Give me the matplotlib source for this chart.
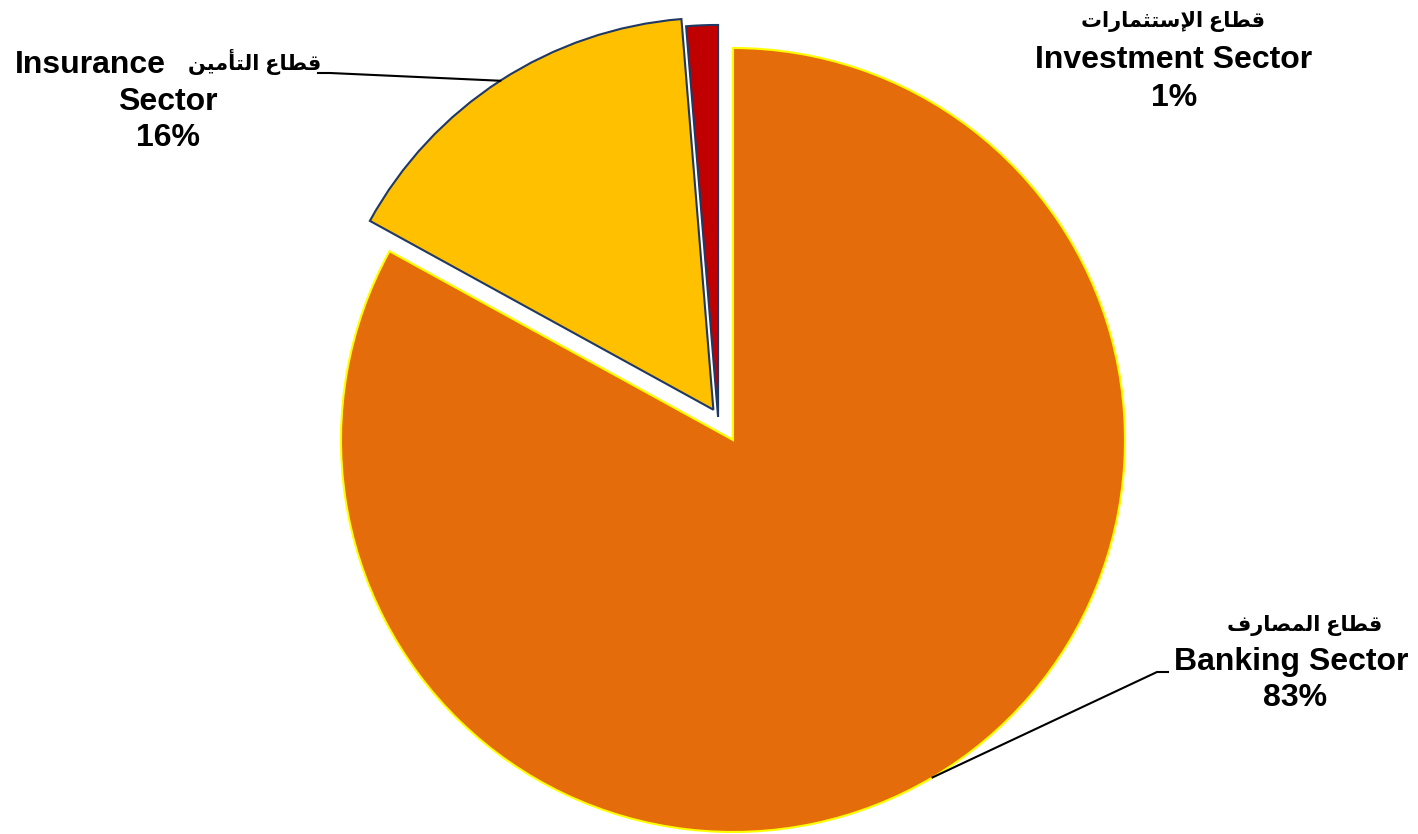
import numpy as np
import matplotlib
matplotlib.use("Agg")
import matplotlib.pyplot as plt

# sector shares (percent)
sectors_en = ["Banking Sector", "Insurance Sector", "Investment Sector"]
sectors_ar = ["قطاع المصارف", "قطاع التأمين", "قطاع الإستثمارات"]
shares = [83.0, 15.7, 1.3]
colors = ["#E46C0A", "#FFC000", "#C00000"]
edges = ["#FFFF00", "#1F3864", "#1F3864"]

# matplotlib does no Arabic shaping, so map letters to presentation forms
# (isolated, final, initial, medial) and reverse for right-to-left display
FORMS = {
    'ا': ('\uFE8D', '\uFE8E', None, None),
    'أ': ('\uFE83', '\uFE84', None, None),
    'إ': ('\uFE87', '\uFE88', None, None),
    'ت': ('\uFE95', '\uFE96', '\uFE97', '\uFE98'),
    'ث': ('\uFE99', '\uFE9A', '\uFE9B', '\uFE9C'),
    'ر': ('\uFEAD', '\uFEAE', None, None),
    'س': ('\uFEB1', '\uFEB2', '\uFEB3', '\uFEB4'),
    'ص': ('\uFEB9', '\uFEBA', '\uFEBB', '\uFEBC'),
    'ط': ('\uFEC1', '\uFEC2', '\uFEC3', '\uFEC4'),
    'ع': ('\uFEC9', '\uFECA', '\uFECB', '\uFECC'),
    'ف': ('\uFED1', '\uFED2', '\uFED3', '\uFED4'),
    'ق': ('\uFED5', '\uFED6', '\uFED7', '\uFED8'),
    'ل': ('\uFEDD', '\uFEDE', '\uFEDF', '\uFEE0'),
    'م': ('\uFEE1', '\uFEE2', '\uFEE3', '\uFEE4'),
    'ن': ('\uFEE5', '\uFEE6', '\uFEE7', '\uFEE8'),
    'ي': ('\uFEF1', '\uFEF2', '\uFEF3', '\uFEF4'),
}
LAM_ALEF = {'ا': ('\uFEFB', '\uFEFC'), 'أ': ('\uFEF7', '\uFEF8'),
            'إ': ('\uFEF9', '\uFEFA')}


def shape_word(w):
    out = []
    i = 0
    prev = False
    while i < len(w):
        c = w[i]
        if c == 'ل' and i + 1 < len(w) and w[i + 1] in LAM_ALEF:
            iso, fin = LAM_ALEF[w[i + 1]]
            out.append(fin if prev else iso)
            prev = False
            i += 2
            continue
        f = FORMS[c]
        nxt = w[i + 1] if i + 1 < len(w) else None
        joins = f[2] is not None and nxt in FORMS
        if prev and joins:
            g = f[3]
        elif prev:
            g = f[1]
        elif joins:
            g = f[2]
        else:
            g = f[0]
        out.append(g)
        prev = joins
        i += 1
    return ''.join(out)


def ar(text):
    return ' '.join(shape_word(w) for w in text.split(' '))[::-1]


FONT = ['Liberation Sans', 'DejaVu Sans']

W, H, R = 1418, 834, 392.0
CX, CY = 733, 440


def px(x, y):
    # pixel position in the image -> data units of the pie
    return (x - CX) / R, (CY - y) / R


fig = plt.figure(figsize=(W / 100, H / 100), dpi=100)
ax = fig.add_axes([0, 0, 1, 1])

wedges, _ = ax.pie(shares, colors=colors, startangle=90, counterclock=False,
                   explode=[0, 0.092, 0], radius=1,
                   wedgeprops=dict(linewidth=1.5))
for w, ec in zip(wedges, edges):
    w.set_edgecolor(ec)

# the small slice is pulled out along the same direction as insurance
ins = wedges[1]
a = np.deg2rad((ins.theta1 + ins.theta2) / 2)
wedges[2].set_center((0.07 * np.cos(a), 0.07 * np.sin(a)))

ax.set_xlim(px(0, 0)[0], px(W, 0)[0])
ax.set_ylim(px(0, H)[1], px(0, 0)[1])
ax.set_aspect('auto')
ax.axis('off')


def mid_point(w):
    t = np.deg2rad((w.theta1 + w.theta2) / 2)
    c = w.center
    return c[0] + w.r * np.cos(t), c[1] + w.r * np.sin(t)


txt = dict(family=FONT, fontweight='bold', color='black', fontsize=23)
atx = dict(family=FONT, fontweight='bold', color='black', fontsize=15)

# Banking
ax.text(*px(1305, 625), ar(sectors_ar[0]), ha='center', va='center', **atx)
ax.text(*px(1291, 662), sectors_en[0], ha='center', va='center', **txt)
ax.text(*px(1295, 698), f"{shares[0]:.0f}%", ha='center', va='center', **txt)
mx, my = mid_point(wedges[0])
e1, e2 = px(1157, 672), px(1168, 672)
ax.plot([mx, e1[0], e2[0]], [my, e1[1], e2[1]], color='black', lw=1.5)

# Insurance
ax.text(*px(90, 65), "Insurance", ha='center', va='center', **txt)
ax.text(*px(255, 62), ar(sectors_ar[1]), ha='center', va='center', **atx)
ax.text(*px(168, 102), "Sector", ha='center', va='center', **txt)
ax.text(*px(168, 138), f"{shares[1]:.0f}%", ha='center', va='center', **txt)
mx, my = mid_point(wedges[1])
e1, e2 = px(330, 73), px(318, 73)
ax.plot([mx, e1[0], e2[0]], [my, e1[1], e2[1]], color='black', lw=1.5)

# Investment
ax.text(*px(1173, 22), ar(sectors_ar[2]), ha='center', va='center', **atx)
ax.text(*px(1174, 60), sectors_en[2], ha='center', va='center', **txt)
ax.text(*px(1174, 98), f"{shares[2]:.0f}%", ha='center', va='center', **txt)

fig.savefig("out.png", dpi=100)
